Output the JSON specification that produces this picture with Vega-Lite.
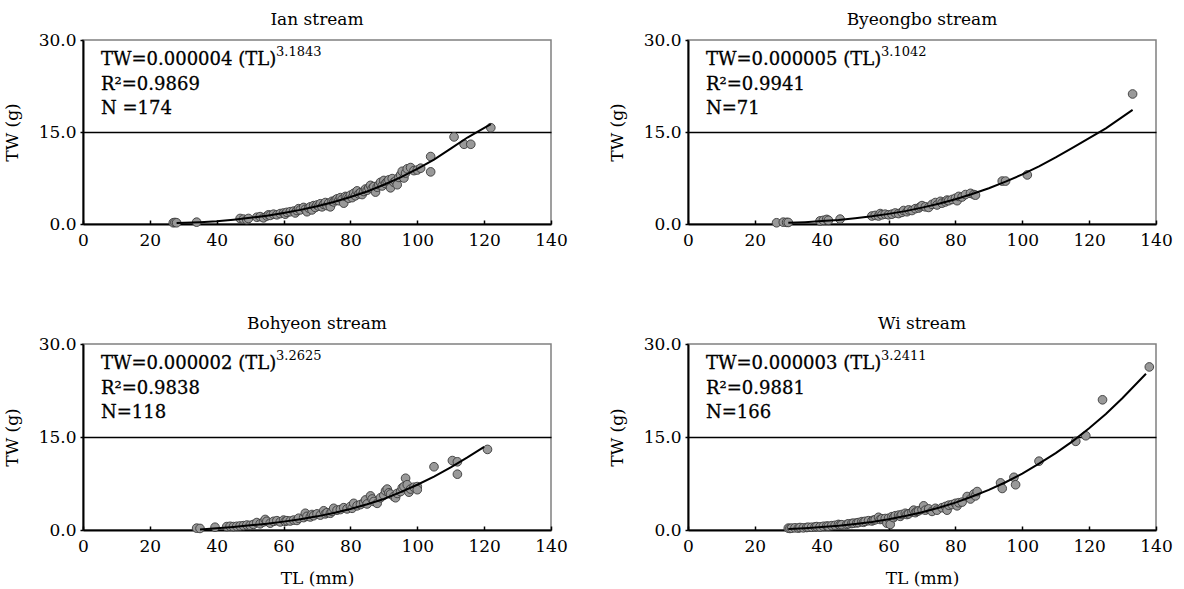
{
"$schema":"https://vega.github.io/schema/vega-lite/v6.json",
"padding":{"left":2,"top":10,"right":0,"bottom":0},
"background":"white",
"datasets":{
"pts":[
{"s":"Ian","TL":27,"TW":0.2},{"s":"Ian","TL":27.5,"TW":0.25},{"s":"Ian","TL":28,"TW":0.2},{"s":"Ian","TL":34,"TW":0.3},{"s":"Ian","TL":47,"TW":0.9},{"s":"Ian","TL":48,"TW":0.8},{"s":"Ian","TL":49,"TW":0.7},{"s":"Ian","TL":49.5,"TW":0.9},{"s":"Ian","TL":52,"TW":1.1},{"s":"Ian","TL":53,"TW":1.2},{"s":"Ian","TL":54,"TW":1.0},{"s":"Ian","TL":55,"TW":1.3},{"s":"Ian","TL":55.5,"TW":1.5},{"s":"Ian","TL":56,"TW":1.4},{"s":"Ian","TL":57,"TW":1.6},{"s":"Ian","TL":58,"TW":1.5},{"s":"Ian","TL":59,"TW":1.7},{"s":"Ian","TL":60,"TW":1.8},{"s":"Ian","TL":60.5,"TW":1.6},{"s":"Ian","TL":61,"TW":1.9},{"s":"Ian","TL":62,"TW":2.0},{"s":"Ian","TL":63,"TW":2.1},{"s":"Ian","TL":63.5,"TW":1.8},{"s":"Ian","TL":64,"TW":2.2},{"s":"Ian","TL":64.5,"TW":2.5},{"s":"Ian","TL":65,"TW":2.3},{"s":"Ian","TL":66,"TW":2.7},{"s":"Ian","TL":66.5,"TW":2.4},{"s":"Ian","TL":67,"TW":2.0},{"s":"Ian","TL":67.5,"TW":2.6},{"s":"Ian","TL":68,"TW":2.8},{"s":"Ian","TL":68.5,"TW":2.3},{"s":"Ian","TL":69,"TW":3.0},{"s":"Ian","TL":69.5,"TW":2.7},{"s":"Ian","TL":70,"TW":3.1},{"s":"Ian","TL":70.5,"TW":2.9},{"s":"Ian","TL":71,"TW":3.3},{"s":"Ian","TL":71.5,"TW":2.8},{"s":"Ian","TL":72,"TW":3.2},{"s":"Ian","TL":72.5,"TW":3.5},{"s":"Ian","TL":73,"TW":3.0},{"s":"Ian","TL":73.5,"TW":3.4},{"s":"Ian","TL":74,"TW":2.8},{"s":"Ian","TL":74.5,"TW":3.7},{"s":"Ian","TL":75,"TW":3.6},{"s":"Ian","TL":75.5,"TW":3.9},{"s":"Ian","TL":76,"TW":4.1},{"s":"Ian","TL":76.5,"TW":3.8},{"s":"Ian","TL":77,"TW":4.3},{"s":"Ian","TL":77.5,"TW":4.0},{"s":"Ian","TL":78,"TW":3.4},{"s":"Ian","TL":78.5,"TW":4.5},{"s":"Ian","TL":79,"TW":4.4},{"s":"Ian","TL":79.5,"TW":4.2},{"s":"Ian","TL":80,"TW":4.7},{"s":"Ian","TL":80.5,"TW":4.3},{"s":"Ian","TL":81,"TW":5.0},{"s":"Ian","TL":81.5,"TW":4.6},{"s":"Ian","TL":82,"TW":5.4},{"s":"Ian","TL":82.5,"TW":4.9},{"s":"Ian","TL":83,"TW":5.1},{"s":"Ian","TL":83.5,"TW":4.8},{"s":"Ian","TL":84,"TW":5.3},{"s":"Ian","TL":84.5,"TW":5.7},{"s":"Ian","TL":85,"TW":5.5},{"s":"Ian","TL":85.5,"TW":5.9},{"s":"Ian","TL":86,"TW":6.3},{"s":"Ian","TL":86.5,"TW":5.8},{"s":"Ian","TL":87,"TW":6.1},{"s":"Ian","TL":87.5,"TW":5.2},{"s":"Ian","TL":88,"TW":6.0},{"s":"Ian","TL":88.5,"TW":6.4},{"s":"Ian","TL":89,"TW":6.8},{"s":"Ian","TL":89.5,"TW":6.2},{"s":"Ian","TL":90,"TW":7.1},{"s":"Ian","TL":90.5,"TW":6.6},{"s":"Ian","TL":91,"TW":6.9},{"s":"Ian","TL":91.5,"TW":7.2},{"s":"Ian","TL":92,"TW":5.9},{"s":"Ian","TL":92.5,"TW":7.4},{"s":"Ian","TL":93,"TW":6.8},{"s":"Ian","TL":93.5,"TW":7.0},{"s":"Ian","TL":94,"TW":6.4},{"s":"Ian","TL":94.5,"TW":7.6},{"s":"Ian","TL":95,"TW":8.0},{"s":"Ian","TL":95.5,"TW":8.6},{"s":"Ian","TL":96,"TW":7.5},{"s":"Ian","TL":96.5,"TW":8.3},{"s":"Ian","TL":97,"TW":9.0},{"s":"Ian","TL":98,"TW":9.2},{"s":"Ian","TL":99,"TW":8.7},{"s":"Ian","TL":100,"TW":8.8},{"s":"Ian","TL":101,"TW":9.1},{"s":"Ian","TL":104,"TW":11.0},{"s":"Ian","TL":104,"TW":8.5},{"s":"Ian","TL":111,"TW":14.2},{"s":"Ian","TL":114,"TW":13.0},{"s":"Ian","TL":116,"TW":13.0},{"s":"Ian","TL":122,"TW":15.7},
{"s":"Bye","TL":26.5,"TW":0.2},{"s":"Bye","TL":28.5,"TW":0.3},{"s":"Bye","TL":29.5,"TW":0.27},{"s":"Bye","TL":30,"TW":0.25},{"s":"Bye","TL":39.5,"TW":0.5},{"s":"Bye","TL":40.5,"TW":0.6},{"s":"Bye","TL":41.5,"TW":0.75},{"s":"Bye","TL":42,"TW":0.6},{"s":"Bye","TL":45.5,"TW":0.8},{"s":"Bye","TL":55,"TW":1.3},{"s":"Bye","TL":56,"TW":1.4},{"s":"Bye","TL":57,"TW":1.3},{"s":"Bye","TL":57.5,"TW":1.7},{"s":"Bye","TL":58,"TW":1.5},{"s":"Bye","TL":59,"TW":1.6},{"s":"Bye","TL":60,"TW":1.5},{"s":"Bye","TL":61,"TW":1.6},{"s":"Bye","TL":62,"TW":1.8},{"s":"Bye","TL":63,"TW":1.7},{"s":"Bye","TL":64,"TW":1.9},{"s":"Bye","TL":64.5,"TW":2.2},{"s":"Bye","TL":65.5,"TW":2.0},{"s":"Bye","TL":66,"TW":2.3},{"s":"Bye","TL":67,"TW":2.2},{"s":"Bye","TL":68,"TW":2.5},{"s":"Bye","TL":69,"TW":2.6},{"s":"Bye","TL":69.5,"TW":2.8},{"s":"Bye","TL":70,"TW":3.0},{"s":"Bye","TL":71,"TW":2.8},{"s":"Bye","TL":72,"TW":2.7},{"s":"Bye","TL":73,"TW":3.2},{"s":"Bye","TL":74,"TW":3.5},{"s":"Bye","TL":74.5,"TW":3.1},{"s":"Bye","TL":75.5,"TW":3.7},{"s":"Bye","TL":76,"TW":3.4},{"s":"Bye","TL":77,"TW":3.6},{"s":"Bye","TL":77.5,"TW":3.9},{"s":"Bye","TL":78,"TW":3.8},{"s":"Bye","TL":79,"TW":4.0},{"s":"Bye","TL":80,"TW":4.2},{"s":"Bye","TL":80.5,"TW":3.8},{"s":"Bye","TL":81,"TW":4.5},{"s":"Bye","TL":82,"TW":4.4},{"s":"Bye","TL":83,"TW":4.8},{"s":"Bye","TL":84.5,"TW":5.0},{"s":"Bye","TL":85.5,"TW":4.8},{"s":"Bye","TL":86,"TW":4.7},{"s":"Bye","TL":94,"TW":7.0},{"s":"Bye","TL":95,"TW":7.0},{"s":"Bye","TL":101.5,"TW":8.0},{"s":"Bye","TL":133,"TW":21.2},
{"s":"Boh","TL":34,"TW":0.3},{"s":"Boh","TL":35,"TW":0.25},{"s":"Boh","TL":39.5,"TW":0.45},{"s":"Boh","TL":43,"TW":0.55},{"s":"Boh","TL":44,"TW":0.6},{"s":"Boh","TL":45,"TW":0.55},{"s":"Boh","TL":46,"TW":0.6},{"s":"Boh","TL":47,"TW":0.65},{"s":"Boh","TL":48,"TW":0.7},{"s":"Boh","TL":49,"TW":0.8},{"s":"Boh","TL":50,"TW":0.75},{"s":"Boh","TL":51,"TW":0.9},{"s":"Boh","TL":52,"TW":1.2},{"s":"Boh","TL":53,"TW":1.0},{"s":"Boh","TL":54,"TW":1.3},{"s":"Boh","TL":54.5,"TW":1.7},{"s":"Boh","TL":55,"TW":1.4},{"s":"Boh","TL":56,"TW":1.1},{"s":"Boh","TL":57,"TW":1.4},{"s":"Boh","TL":58,"TW":1.5},{"s":"Boh","TL":59,"TW":1.3},{"s":"Boh","TL":60,"TW":1.6},{"s":"Boh","TL":60.5,"TW":1.4},{"s":"Boh","TL":61,"TW":1.5},{"s":"Boh","TL":62,"TW":1.45},{"s":"Boh","TL":63,"TW":1.6},{"s":"Boh","TL":64,"TW":1.55},{"s":"Boh","TL":64.5,"TW":1.9},{"s":"Boh","TL":66,"TW":2.0},{"s":"Boh","TL":66.5,"TW":2.7},{"s":"Boh","TL":67,"TW":2.2},{"s":"Boh","TL":68,"TW":2.1},{"s":"Boh","TL":68.5,"TW":2.5},{"s":"Boh","TL":69,"TW":2.3},{"s":"Boh","TL":70,"TW":2.6},{"s":"Boh","TL":71,"TW":2.4},{"s":"Boh","TL":72,"TW":3.1},{"s":"Boh","TL":72.5,"TW":2.6},{"s":"Boh","TL":73,"TW":2.8},{"s":"Boh","TL":74,"TW":2.7},{"s":"Boh","TL":74.5,"TW":3.0},{"s":"Boh","TL":75,"TW":3.5},{"s":"Boh","TL":76,"TW":3.2},{"s":"Boh","TL":77,"TW":3.3},{"s":"Boh","TL":78,"TW":3.6},{"s":"Boh","TL":79,"TW":3.4},{"s":"Boh","TL":80,"TW":3.8},{"s":"Boh","TL":80.5,"TW":3.5},{"s":"Boh","TL":81,"TW":4.3},{"s":"Boh","TL":82,"TW":3.9},{"s":"Boh","TL":83,"TW":4.1},{"s":"Boh","TL":84,"TW":4.4},{"s":"Boh","TL":84.5,"TW":4.85},{"s":"Boh","TL":85,"TW":4.2},{"s":"Boh","TL":86,"TW":5.5},{"s":"Boh","TL":86.5,"TW":5.0},{"s":"Boh","TL":87,"TW":4.6},{"s":"Boh","TL":88,"TW":4.3},{"s":"Boh","TL":89,"TW":5.2},{"s":"Boh","TL":90,"TW":5.6},{"s":"Boh","TL":90.5,"TW":6.3},{"s":"Boh","TL":91,"TW":6.6},{"s":"Boh","TL":91.5,"TW":6.0},{"s":"Boh","TL":92,"TW":5.8},{"s":"Boh","TL":93,"TW":5.4},{"s":"Boh","TL":93.5,"TW":5.2},{"s":"Boh","TL":94,"TW":5.9},{"s":"Boh","TL":95,"TW":6.2},{"s":"Boh","TL":95.5,"TW":6.8},{"s":"Boh","TL":96,"TW":7.0},{"s":"Boh","TL":96.5,"TW":8.35},{"s":"Boh","TL":97,"TW":7.3},{"s":"Boh","TL":97.5,"TW":6.1},{"s":"Boh","TL":98,"TW":6.6},{"s":"Boh","TL":99,"TW":6.9},{"s":"Boh","TL":100,"TW":7.0},{"s":"Boh","TL":100,"TW":6.5},{"s":"Boh","TL":105,"TW":10.2},{"s":"Boh","TL":110.5,"TW":11.2},{"s":"Boh","TL":112,"TW":11.0},{"s":"Boh","TL":112,"TW":9.0},{"s":"Boh","TL":121,"TW":13.0},
{"s":"Wi","TL":30,"TW":0.3},{"s":"Wi","TL":30.5,"TW":0.25},{"s":"Wi","TL":31,"TW":0.3},{"s":"Wi","TL":32,"TW":0.35},{"s":"Wi","TL":33,"TW":0.3},{"s":"Wi","TL":33.5,"TW":0.4},{"s":"Wi","TL":34.5,"TW":0.35},{"s":"Wi","TL":35.5,"TW":0.4},{"s":"Wi","TL":36,"TW":0.45},{"s":"Wi","TL":37,"TW":0.45},{"s":"Wi","TL":38,"TW":0.5},{"s":"Wi","TL":38.5,"TW":0.55},{"s":"Wi","TL":39.5,"TW":0.5},{"s":"Wi","TL":40.5,"TW":0.6},{"s":"Wi","TL":41.5,"TW":0.65},{"s":"Wi","TL":42,"TW":0.6},{"s":"Wi","TL":43,"TW":0.7},{"s":"Wi","TL":44,"TW":0.75},{"s":"Wi","TL":45,"TW":0.9},{"s":"Wi","TL":45.5,"TW":0.8},{"s":"Wi","TL":46,"TW":0.85},{"s":"Wi","TL":47.5,"TW":0.9},{"s":"Wi","TL":48,"TW":1.0},{"s":"Wi","TL":49,"TW":1.05},{"s":"Wi","TL":49.5,"TW":1.1},{"s":"Wi","TL":50.5,"TW":1.15},{"s":"Wi","TL":51,"TW":1.2},{"s":"Wi","TL":52,"TW":1.35},{"s":"Wi","TL":52.5,"TW":1.25},{"s":"Wi","TL":53,"TW":1.4},{"s":"Wi","TL":54,"TW":1.5},{"s":"Wi","TL":55,"TW":1.45},{"s":"Wi","TL":55.5,"TW":1.6},{"s":"Wi","TL":56,"TW":1.65},{"s":"Wi","TL":57,"TW":2.05},{"s":"Wi","TL":57.5,"TW":1.7},{"s":"Wi","TL":58,"TW":1.8},{"s":"Wi","TL":59,"TW":1.85},{"s":"Wi","TL":59.5,"TW":1.1},{"s":"Wi","TL":60,"TW":1.9},{"s":"Wi","TL":60.5,"TW":0.9},{"s":"Wi","TL":61,"TW":2.15},{"s":"Wi","TL":61.5,"TW":2.0},{"s":"Wi","TL":62,"TW":2.3},{"s":"Wi","TL":63,"TW":2.4},{"s":"Wi","TL":63.5,"TW":2.2},{"s":"Wi","TL":64,"TW":2.5},{"s":"Wi","TL":65,"TW":2.7},{"s":"Wi","TL":65.5,"TW":2.5},{"s":"Wi","TL":66,"TW":2.6},{"s":"Wi","TL":67,"TW":2.9},{"s":"Wi","TL":67.5,"TW":3.2},{"s":"Wi","TL":68,"TW":2.8},{"s":"Wi","TL":68.5,"TW":3.0},{"s":"Wi","TL":69,"TW":3.1},{"s":"Wi","TL":70,"TW":3.3},{"s":"Wi","TL":70.5,"TW":3.9},{"s":"Wi","TL":71,"TW":3.2},{"s":"Wi","TL":72,"TW":3.4},{"s":"Wi","TL":73,"TW":3.0},{"s":"Wi","TL":74,"TW":3.5},{"s":"Wi","TL":74.5,"TW":3.2},{"s":"Wi","TL":76,"TW":3.6},{"s":"Wi","TL":77,"TW":3.8},{"s":"Wi","TL":77.5,"TW":3.2},{"s":"Wi","TL":78,"TW":4.0},{"s":"Wi","TL":79,"TW":4.1},{"s":"Wi","TL":80,"TW":4.3},{"s":"Wi","TL":80.5,"TW":3.9},{"s":"Wi","TL":81,"TW":4.4},{"s":"Wi","TL":82,"TW":4.5},{"s":"Wi","TL":83.5,"TW":5.4},{"s":"Wi","TL":84.5,"TW":5.0},{"s":"Wi","TL":85.5,"TW":5.8},{"s":"Wi","TL":86,"TW":5.5},{"s":"Wi","TL":86.5,"TW":6.2},{"s":"Wi","TL":93.5,"TW":7.6},{"s":"Wi","TL":94,"TW":6.7},{"s":"Wi","TL":97.5,"TW":8.5},{"s":"Wi","TL":98,"TW":7.3},{"s":"Wi","TL":105,"TW":11.1},{"s":"Wi","TL":116,"TW":14.3},{"s":"Wi","TL":119,"TW":15.2},{"s":"Wi","TL":124,"TW":21.0},{"s":"Wi","TL":138,"TW":26.3}
],
"fit":[
{"s":"Ian","TL":28,"TW":0.15},{"s":"Ian","TL":35,"TW":0.3},{"s":"Ian","TL":40,"TW":0.45},{"s":"Ian","TL":45,"TW":0.7},{"s":"Ian","TL":50,"TW":1.0},{"s":"Ian","TL":55,"TW":1.35},{"s":"Ian","TL":60,"TW":1.8},{"s":"Ian","TL":65,"TW":2.3},{"s":"Ian","TL":70,"TW":2.9},{"s":"Ian","TL":75,"TW":3.6},{"s":"Ian","TL":80,"TW":4.4},{"s":"Ian","TL":85,"TW":5.3},{"s":"Ian","TL":90,"TW":6.4},{"s":"Ian","TL":95,"TW":7.6},{"s":"Ian","TL":100,"TW":9.0},{"s":"Ian","TL":105,"TW":10.5},{"s":"Ian","TL":110,"TW":12.3},{"s":"Ian","TL":115,"TW":14.1},{"s":"Ian","TL":122,"TW":16.3},
{"s":"Bye","TL":30,"TW":0.19},{"s":"Bye","TL":35,"TW":0.3},{"s":"Bye","TL":40,"TW":0.47},{"s":"Bye","TL":45,"TW":0.67},{"s":"Bye","TL":50,"TW":0.94},{"s":"Bye","TL":55,"TW":1.26},{"s":"Bye","TL":60,"TW":1.65},{"s":"Bye","TL":65,"TW":2.1},{"s":"Bye","TL":70,"TW":2.67},{"s":"Bye","TL":75,"TW":3.3},{"s":"Bye","TL":80,"TW":4.04},{"s":"Bye","TL":85,"TW":4.9},{"s":"Bye","TL":90,"TW":5.83},{"s":"Bye","TL":95,"TW":6.9},{"s":"Bye","TL":100,"TW":8.08},{"s":"Bye","TL":105,"TW":9.4},{"s":"Bye","TL":110,"TW":10.86},{"s":"Bye","TL":115,"TW":12.4},{"s":"Bye","TL":120,"TW":14.0},{"s":"Bye","TL":125,"TW":15.6},{"s":"Bye","TL":133,"TW":18.6},
{"s":"Boh","TL":35,"TW":0.1},{"s":"Boh","TL":40,"TW":0.3},{"s":"Boh","TL":45,"TW":0.5},{"s":"Boh","TL":50,"TW":0.75},{"s":"Boh","TL":55,"TW":1.0},{"s":"Boh","TL":60,"TW":1.35},{"s":"Boh","TL":65,"TW":1.75},{"s":"Boh","TL":70,"TW":2.2},{"s":"Boh","TL":75,"TW":2.75},{"s":"Boh","TL":80,"TW":3.4},{"s":"Boh","TL":85,"TW":4.15},{"s":"Boh","TL":90,"TW":5.0},{"s":"Boh","TL":95,"TW":6.1},{"s":"Boh","TL":100,"TW":7.3},{"s":"Boh","TL":105,"TW":8.6},{"s":"Boh","TL":110,"TW":10.1},{"s":"Boh","TL":115,"TW":11.7},{"s":"Boh","TL":120,"TW":13.4},
{"s":"Wi","TL":30,"TW":0.18},{"s":"Wi","TL":35,"TW":0.3},{"s":"Wi","TL":40,"TW":0.47},{"s":"Wi","TL":45,"TW":0.68},{"s":"Wi","TL":50,"TW":0.96},{"s":"Wi","TL":55,"TW":1.3},{"s":"Wi","TL":60,"TW":1.74},{"s":"Wi","TL":65,"TW":2.25},{"s":"Wi","TL":70,"TW":2.87},{"s":"Wi","TL":75,"TW":3.6},{"s":"Wi","TL":80,"TW":4.42},{"s":"Wi","TL":85,"TW":5.4},{"s":"Wi","TL":90,"TW":6.47},{"s":"Wi","TL":95,"TW":7.7},{"s":"Wi","TL":100,"TW":9.1},{"s":"Wi","TL":105,"TW":10.7},{"s":"Wi","TL":110,"TW":12.4},{"s":"Wi","TL":115,"TW":14.3},{"s":"Wi","TL":120,"TW":16.4},{"s":"Wi","TL":125,"TW":18.7},{"s":"Wi","TL":130,"TW":21.3},{"s":"Wi","TL":137,"TW":25.2}
],
"ann":[
{"s":"Ian","txt":"TW=0.000004 (TL)\nR²=0.9869\nN =174","exp":"3.1843"},
{"s":"Bye","txt":"TW=0.000005 (TL)\nR²=0.9941\nN=71","exp":"3.1042"},
{"s":"Boh","txt":"TW=0.000002 (TL)\nR²=0.9838\nN=118","exp":"3.2625"},
{"s":"Wi","txt":"TW=0.000003 (TL)\nR²=0.9881\nN=166","exp":"3.2411"}
]
},
"config":{
"font":"DejaVu Serif",
"view":{"stroke":"#808080","strokeWidth":1.5},
"axis":{"domainColor":"black","domainWidth":2,"tickColor":"black","tickWidth":1.5,"labelFont":"DejaVu Serif","labelFontSize":17,"labelColor":"black","titleFont":"DejaVu Serif","titleFontSize":17,"titleFontWeight":"normal","titleColor":"black","grid":false},
"title":{"font":"DejaVu Serif","fontSize":17,"fontWeight":"normal","color":"black","offset":2},
"concat":{"spacing":39}
},
"vconcat":[
{"hconcat":[
{"title":"Ian stream","width":468,"height":184,
"layer":[
{"data":{"name":"pts"},"transform":[{"filter":"datum.s==='Ian'"}],"mark":{"type":"point","shape":"circle","filled":true,"size":75,"color":"#999999","stroke":"#3a3a3a","strokeWidth":0.9,"opacity":1},
"encoding":{"x":{"field":"TL","type":"quantitative","title":null,"scale":{"domain":[0,140],"nice":false},"axis":{"values":[0,20,40,60,80,100,120,140],"tickSize":-4,"labelPadding":12,"labelFlush":false}},
"y":{"field":"TW","type":"quantitative","title":"TW (g)","scale":{"domain":[0,30],"nice":false},"axis":{"values":[0,15,30],"format":".1f","tickSize":3,"labelPadding":4,"titlePadding":17,"grid":true,"gridColor":{"condition":{"test":"datum.value===15","value":"black"},"value":"transparent"},"gridWidth":1.5}}}},
{"data":{"name":"fit"},"transform":[{"filter":"datum.s==='Ian'"}],"mark":{"type":"line","color":"black","strokeWidth":2},"encoding":{"x":{"field":"TL","type":"quantitative","title":null},"y":{"field":"TW","type":"quantitative","title":"TW (g)"}}},
{"data":{"name":"ann"},"transform":[{"filter":"datum.s==='Ian'"}],"mark":{"type":"text","align":"left","baseline":"alphabetic","lineBreak":"\n","lineHeight":24.5,"fontSize":18,"dx":18,"dy":25,"color":"black","stroke":"black","strokeWidth":0.3},"encoding":{"x":{"datum":0,"type":"quantitative","title":null},"y":{"datum":30,"type":"quantitative","title":"TW (g)"},"text":{"field":"txt"}}},
{"data":{"name":"ann"},"transform":[{"filter":"datum.s==='Ian'"}],"mark":{"type":"text","align":"left","baseline":"alphabetic","fontSize":13,"dx":193,"dy":16,"color":"black"},"encoding":{"x":{"datum":0,"type":"quantitative","title":null},"y":{"datum":30,"type":"quantitative","title":"TW (g)"},"text":{"field":"exp"}}}
]},
{"title":"Byeongbo stream","width":468,"height":184,
"layer":[
{"data":{"name":"pts"},"transform":[{"filter":"datum.s==='Bye'"}],"mark":{"type":"point","shape":"circle","filled":true,"size":75,"color":"#999999","stroke":"#3a3a3a","strokeWidth":0.9,"opacity":1},
"encoding":{"x":{"field":"TL","type":"quantitative","title":null,"scale":{"domain":[0,140],"nice":false},"axis":{"values":[0,20,40,60,80,100,120,140],"tickSize":-4,"labelPadding":12,"labelFlush":false}},
"y":{"field":"TW","type":"quantitative","title":"TW (g)","scale":{"domain":[0,30],"nice":false},"axis":{"values":[0,15,30],"format":".1f","tickSize":3,"labelPadding":4,"titlePadding":17,"grid":true,"gridColor":{"condition":{"test":"datum.value===15","value":"black"},"value":"transparent"},"gridWidth":1.5}}}},
{"data":{"name":"fit"},"transform":[{"filter":"datum.s==='Bye'"}],"mark":{"type":"line","color":"black","strokeWidth":2},"encoding":{"x":{"field":"TL","type":"quantitative","title":null},"y":{"field":"TW","type":"quantitative","title":"TW (g)"}}},
{"data":{"name":"ann"},"transform":[{"filter":"datum.s==='Bye'"}],"mark":{"type":"text","align":"left","baseline":"alphabetic","lineBreak":"\n","lineHeight":24.5,"fontSize":18,"dx":18,"dy":25,"color":"black","stroke":"black","strokeWidth":0.3},"encoding":{"x":{"datum":0,"type":"quantitative","title":null},"y":{"datum":30,"type":"quantitative","title":"TW (g)"},"text":{"field":"txt"}}},
{"data":{"name":"ann"},"transform":[{"filter":"datum.s==='Bye'"}],"mark":{"type":"text","align":"left","baseline":"alphabetic","fontSize":13,"dx":193,"dy":16,"color":"black"},"encoding":{"x":{"datum":0,"type":"quantitative","title":null},"y":{"datum":30,"type":"quantitative","title":"TW (g)"},"text":{"field":"exp"}}}
]}
]},
{"hconcat":[
{"title":"Bohyeon stream","width":468,"height":186,
"layer":[
{"data":{"name":"pts"},"transform":[{"filter":"datum.s==='Boh'"}],"mark":{"type":"point","shape":"circle","filled":true,"size":75,"color":"#999999","stroke":"#3a3a3a","strokeWidth":0.9,"opacity":1},
"encoding":{"x":{"field":"TL","type":"quantitative","title":"TL (mm)","scale":{"domain":[0,140],"nice":false},"axis":{"values":[0,20,40,60,80,100,120,140],"tickSize":-4,"labelPadding":12,"labelFlush":false,"titlePadding":16}},
"y":{"field":"TW","type":"quantitative","title":"TW (g)","scale":{"domain":[0,30],"nice":false},"axis":{"values":[0,15,30],"format":".1f","tickSize":3,"labelPadding":4,"titlePadding":17,"grid":true,"gridColor":{"condition":{"test":"datum.value===15","value":"black"},"value":"transparent"},"gridWidth":1.5}}}},
{"data":{"name":"fit"},"transform":[{"filter":"datum.s==='Boh'"}],"mark":{"type":"line","color":"black","strokeWidth":2},"encoding":{"x":{"field":"TL","type":"quantitative","title":"TL (mm)"},"y":{"field":"TW","type":"quantitative","title":"TW (g)"}}},
{"data":{"name":"ann"},"transform":[{"filter":"datum.s==='Boh'"}],"mark":{"type":"text","align":"left","baseline":"alphabetic","lineBreak":"\n","lineHeight":24.5,"fontSize":18,"dx":18,"dy":25,"color":"black","stroke":"black","strokeWidth":0.3},"encoding":{"x":{"datum":0,"type":"quantitative","title":"TL (mm)"},"y":{"datum":30,"type":"quantitative","title":"TW (g)"},"text":{"field":"txt"}}},
{"data":{"name":"ann"},"transform":[{"filter":"datum.s==='Boh'"}],"mark":{"type":"text","align":"left","baseline":"alphabetic","fontSize":13,"dx":193,"dy":16,"color":"black"},"encoding":{"x":{"datum":0,"type":"quantitative","title":"TL (mm)"},"y":{"datum":30,"type":"quantitative","title":"TW (g)"},"text":{"field":"exp"}}}
]},
{"title":"Wi stream","width":468,"height":186,
"layer":[
{"data":{"name":"pts"},"transform":[{"filter":"datum.s==='Wi'"}],"mark":{"type":"point","shape":"circle","filled":true,"size":75,"color":"#999999","stroke":"#3a3a3a","strokeWidth":0.9,"opacity":1},
"encoding":{"x":{"field":"TL","type":"quantitative","title":"TL (mm)","scale":{"domain":[0,140],"nice":false},"axis":{"values":[0,20,40,60,80,100,120,140],"tickSize":-4,"labelPadding":12,"labelFlush":false,"titlePadding":16}},
"y":{"field":"TW","type":"quantitative","title":"TW (g)","scale":{"domain":[0,30],"nice":false},"axis":{"values":[0,15,30],"format":".1f","tickSize":3,"labelPadding":4,"titlePadding":17,"grid":true,"gridColor":{"condition":{"test":"datum.value===15","value":"black"},"value":"transparent"},"gridWidth":1.5}}}},
{"data":{"name":"fit"},"transform":[{"filter":"datum.s==='Wi'"}],"mark":{"type":"line","color":"black","strokeWidth":2},"encoding":{"x":{"field":"TL","type":"quantitative","title":"TL (mm)"},"y":{"field":"TW","type":"quantitative","title":"TW (g)"}}},
{"data":{"name":"ann"},"transform":[{"filter":"datum.s==='Wi'"}],"mark":{"type":"text","align":"left","baseline":"alphabetic","lineBreak":"\n","lineHeight":24.5,"fontSize":18,"dx":18,"dy":25,"color":"black","stroke":"black","strokeWidth":0.3},"encoding":{"x":{"datum":0,"type":"quantitative","title":"TL (mm)"},"y":{"datum":30,"type":"quantitative","title":"TW (g)"},"text":{"field":"txt"}}},
{"data":{"name":"ann"},"transform":[{"filter":"datum.s==='Wi'"}],"mark":{"type":"text","align":"left","baseline":"alphabetic","fontSize":13,"dx":193,"dy":16,"color":"black"},"encoding":{"x":{"datum":0,"type":"quantitative","title":"TL (mm)"},"y":{"datum":30,"type":"quantitative","title":"TW (g)"},"text":{"field":"exp"}}}
]}
]}
],
"spacing":65
}
